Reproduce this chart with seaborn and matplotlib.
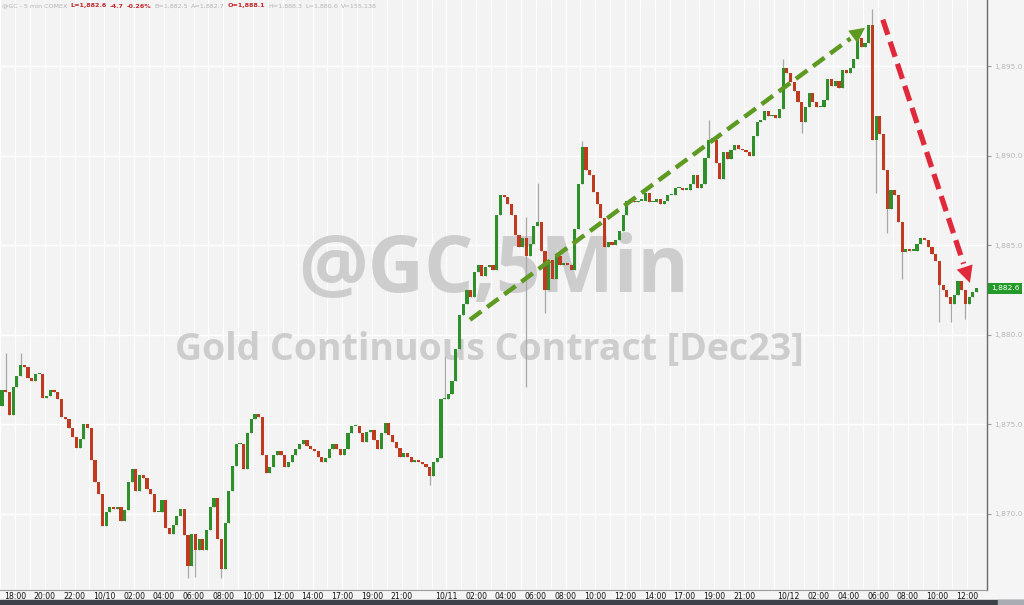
import numpy as np
import pandas as pd
import matplotlib
matplotlib.use("Agg")
import matplotlib.pyplot as plt
import matplotlib.transforms as mtransforms
from matplotlib.patches import Rectangle
import seaborn as sns

# 15-minute candles, GC Dec23
sessions = [("2023-10-09 17:00", "2023-10-10 15:45"),
            ("2023-10-10 17:00", "2023-10-11 15:45"),
            ("2023-10-11 17:00", "2023-10-12 12:30")]

first_open = 1876.0
closes = [
    1876.9, 1876.8, 1875.5, 1877.1, 1877.7, 1878.3, 1878.2, 1877.6, 1877.4, 1877.8,
    1877.8, 1876.5, 1876.6, 1876.9, 1876.8, 1876.4, 1875.4, 1875.3, 1874.8, 1874.3,
    1873.7, 1874.2, 1875.0, 1874.8, 1873.0, 1871.8, 1871.1, 1869.3, 1870.1, 1870.4,
    1870.3, 1870.4, 1869.6, 1870.2, 1871.8, 1872.5, 1871.3, 1872.2, 1872.0, 1871.4,
    1871.1, 1870.1, 1870.1, 1870.8, 1869.2, 1868.9, 1869.4, 1869.9, 1870.3, 1868.8,
    1867.1, 1868.9, 1868.0, 1868.6, 1868.0, 1869.1, 1870.4, 1870.9, 1868.6, 1866.9,
    1869.5, 1871.3, 1872.7, 1873.9, 1873.9, 1872.5, 1874.5, 1875.3, 1875.6, 1875.4,
    1873.3, 1872.3, 1872.6, 1873.3, 1873.5, 1873.3, 1872.6, 1872.9, 1873.3, 1873.6,
    1873.9, 1874.1, 1873.8, 1873.6, 1873.5, 1873.2, 1872.9, 1873.1, 1873.6, 1873.9,
    1873.6, 1873.3, 1873.6, 1874.5, 1874.9, 1874.9, 1874.5, 1874.0, 1874.6, 1874.7,
    1874.1, 1873.6, 1874.5, 1875.1, 1874.4, 1874.0, 1873.7, 1873.2, 1873.4, 1873.2,
    1872.9, 1873.0, 1872.9, 1872.8, 1872.6, 1872.1, 1872.9, 1873.1, 1876.4, 1876.4,
    1876.7, 1877.4, 1879.2, 1881.1, 1881.7, 1882.5, 1882.1, 1883.5, 1883.9, 1883.3,
    1883.8, 1883.9, 1883.6, 1886.7, 1887.8, 1887.7, 1887.3, 1886.7, 1885.6, 1884.9,
    1885.4, 1884.4, 1885.1, 1886.1, 1886.3, 1884.7, 1882.5, 1884.2, 1883.1, 1884.4,
    1883.9, 1884.0, 1883.9, 1883.6, 1885.9, 1888.4, 1890.5, 1889.2, 1888.9, 1888.0,
    1887.3, 1886.5, 1884.9, 1885.2, 1885.0, 1885.3, 1885.8, 1886.7, 1887.5, 1887.5,
    1887.4, 1887.5, 1887.5, 1887.9, 1887.4, 1887.4, 1887.6, 1887.3, 1887.5, 1887.8,
    1887.8, 1888.2, 1888.2, 1888.1, 1888.1, 1888.4, 1888.9, 1888.2, 1888.4, 1889.9,
    1890.9, 1890.9, 1889.6, 1888.7, 1890.2, 1889.8, 1890.3, 1890.6, 1890.4, 1890.3,
    1890.2, 1890.0, 1891.1, 1891.9, 1892.0, 1892.5, 1892.2, 1892.3, 1892.1, 1892.6,
    1894.9, 1894.6, 1894.1, 1893.6, 1893.0, 1891.9, 1892.7, 1893.5, 1893.0, 1892.7,
    1892.7, 1893.1, 1894.3, 1893.9, 1894.2, 1893.8, 1894.8, 1894.6, 1894.9, 1895.4,
    1896.6, 1896.1, 1896.3, 1897.3, 1890.9, 1892.2, 1891.2, 1889.2, 1887.0, 1888.1,
    1887.8, 1886.3, 1884.6, 1884.8, 1884.7, 1884.7, 1885.1, 1885.4, 1885.3, 1884.9,
    1884.5, 1884.1, 1882.8, 1882.5, 1882.1, 1881.7, 1882.2, 1883.0, 1882.5, 1881.7,
    1882.1, 1882.4, 1882.6,
]

# notable wicks: candle number -> price
high_wicks = {1: 1879.0, 5: 1879.0, 119: 1878.8, 141: 1886.6, 144: 1888.5,
              156: 1890.8, 190: 1892.0, 210: 1895.4, 234: 1898.2}
low_wicks = {50: 1866.4, 52: 1866.5, 59: 1866.4, 115: 1871.6, 141: 1877.1,
             146: 1881.2, 215: 1891.3, 235: 1887.9, 238: 1885.7, 242: 1883.1,
             252: 1880.7, 255: 1880.7, 259: 1880.9}

tick_times = ["2023-10-09 18:00", "2023-10-09 20:00", "2023-10-09 22:00",
              "2023-10-10 00:00", "2023-10-10 02:00", "2023-10-10 04:00",
              "2023-10-10 06:00", "2023-10-10 08:00", "2023-10-10 10:00",
              "2023-10-10 12:00", "2023-10-10 14:00", "2023-10-10 17:00",
              "2023-10-10 19:00", "2023-10-10 21:00", "2023-10-11 00:00",
              "2023-10-11 02:00", "2023-10-11 04:00", "2023-10-11 06:00",
              "2023-10-11 08:00", "2023-10-11 10:00", "2023-10-11 12:00",
              "2023-10-11 14:00", "2023-10-11 17:00", "2023-10-11 19:00",
              "2023-10-11 21:00", "2023-10-12 00:00", "2023-10-12 02:00",
              "2023-10-12 04:00", "2023-10-12 06:00", "2023-10-12 08:00",
              "2023-10-12 10:00", "2023-10-12 12:00"]
price_ticks = [1870, 1875, 1880, 1885, 1890, 1895]

header = [("@GC - 5 min COMEX", "#b4b4b4", "normal"), ("L=1,882.6", "#c0262c", "bold"),
          ("-4.7", "#c0262c", "bold"), ("-0.26%", "#c0262c", "bold"),
          ("B=1,882.5", "#b4b4b4", "normal"), ("A=1,882.7", "#b4b4b4", "normal"),
          ("O=1,888.1", "#c0262c", "bold"), ("H=1,888.3", "#b4b4b4", "normal"),
          ("L=1,880.6", "#b4b4b4", "normal"), ("V=155,138", "#b4b4b4", "normal")]

# build the frame
times = pd.DatetimeIndex(np.concatenate(
    [pd.date_range(a, b, freq="15min").values for a, b in sessions]))
df = pd.DataFrame({"time": times, "close": closes})
df["open"] = df["close"].shift(1).fillna(first_open)
df["high"] = df[["open", "close"]].max(axis=1)
df["low"] = df[["open", "close"]].min(axis=1)
for k, v in high_wicks.items():
    df.loc[k, "high"] = v
for k, v in low_wicks.items():
    df.loc[k, "low"] = v
df["idx"] = np.arange(len(df))
df["up"] = df["close"] >= df["open"]

sns.set_style("white")
plt.rcParams["font.family"] = ["DejaVu Sans"]

fig = plt.figure(figsize=(10.24, 6.05), dpi=100, facecolor="#f5f5f5")
ax = fig.add_axes([0, 15 / 605, 987 / 1024, 590 / 605])
ax.set_facecolor("#f3f3f3")

# grid: hourly verticals, price horizontals
hours = df.loc[df["time"].dt.minute == 0, "idx"] - 0.5
for h in hours:
    ax.axvline(h, color="white", lw=0.8, zorder=0)
for p in price_ticks:
    ax.axhline(p, color="white", lw=1.0, zorder=0)

# watermark
ax.text(0.4995, 0.539, "@GC,5Min", transform=ax.transAxes, ha="center", va="center",
        fontsize=56, fontweight="bold", family="Open Sans", color="#cdcdcd", zorder=1)
ax.text(0.496, 0.407, "Gold Continuous Contract [Dec23]", transform=ax.transAxes,
        ha="center", va="center", fontsize=27, fontweight="bold", family="Open Sans",
        color="#cdcdcd", zorder=1)

# candles
ax.vlines(df["idx"], df["low"], df["high"], color="#a8a8a8", lw=0.9, zorder=2)
body = (df["close"] - df["open"]).abs().clip(lower=0.08)
colors = np.where(df["up"], "#2f8f2a", "#bf3a1e")
ax.bar(df["idx"], body, bottom=df[["open", "close"]].min(axis=1), width=0.85,
       color=colors, linewidth=0, zorder=3)

# trend arrows
ax.plot([125.8, 228.1], [1880.84, 1896.55], color="#5e9a22", lw=3.2,
        dashes=(3.2, 1.6), zorder=4, solid_capstyle="butt")
ax.annotate("", xy=(232.0, 1897.15), xytext=(228.1, 1896.55),
            arrowprops=dict(arrowstyle="-|>,head_length=1.1,head_width=0.55",
                            color="#5e9a22", lw=0, shrinkA=0, shrinkB=0), zorder=4)
ax.plot([236.8, 258.5], [1897.6, 1883.97], color="#e02a3c", lw=3.8,
        dashes=(3.0, 1.4), zorder=4)
ax.annotate("", xy=(260.2, 1882.9), xytext=(258.5, 1883.97),
            arrowprops=dict(arrowstyle="-|>,head_length=1.2,head_width=0.6",
                            color="#e02a3c", lw=0, shrinkA=0, shrinkB=0), zorder=4)

# axes
ax.set_xlim(-0.53, 264.8)
ax.set_ylim(1865.75, 1898.7)
tpos = np.searchsorted(df["time"].values, pd.to_datetime(tick_times).values) - 0.5
tlab = [t.strftime("%m/%d") if t.hour == 0 else t.strftime("%H:%M")
        for t in pd.to_datetime(tick_times)]
ax.set_xticks(tpos)
ax.set_xticklabels(tlab, fontsize=5.6, color="#111111")
ax.yaxis.tick_right()
ax.set_yticks(price_ticks)
ax.set_yticklabels([f"{p:,.1f}" for p in price_ticks], fontsize=5.4, color="#b8b8b8")
ax.tick_params(axis="x", direction="in", length=2.5, pad=1.2, color="#888888")
ax.tick_params(axis="y", direction="out", length=3, pad=2, color="#999999")
for s in ["top", "left"]:
    ax.spines[s].set_visible(False)
ax.spines["right"].set_color("#6a6a6a")
ax.spines["bottom"].set_color("#9a9a9a")
ax.spines["right"].set_linewidth(1.0)
ax.spines["bottom"].set_linewidth(0.8)

# last price tag
trans = mtransforms.blended_transform_factory(ax.transAxes, ax.transData)
ax.text(1.004, closes[-1], f"{closes[-1]:,.1f}", transform=trans, ha="left", va="center",
        fontsize=5.4, color="white", zorder=6, clip_on=False,
        bbox=dict(boxstyle="square,pad=0.35", fc="#249a2a", ec="none"))

# header line, pieces laid out one after the other
renderer = fig.canvas.get_renderer()
xp = 2
for txt, col, wt in header:
    t = fig.text(xp / 1024, 1 - 6 / 605, txt, fontsize=4.6, color=col, fontweight=wt,
                 ha="left", va="center")
    xp += t.get_window_extent(renderer).width + 3.0

# bottom bar
fig.patches.append(Rectangle((0, 0), 1, 5 / 605, transform=fig.transFigure,
                             color="#3d4149", zorder=0))
fig.patches.append(Rectangle((998 / 1024, 0), 26 / 1024, 5 / 605, transform=fig.transFigure,
                             color="#a9adb3", zorder=1))

fig.savefig("out.png", dpi=100, facecolor=fig.get_facecolor())
